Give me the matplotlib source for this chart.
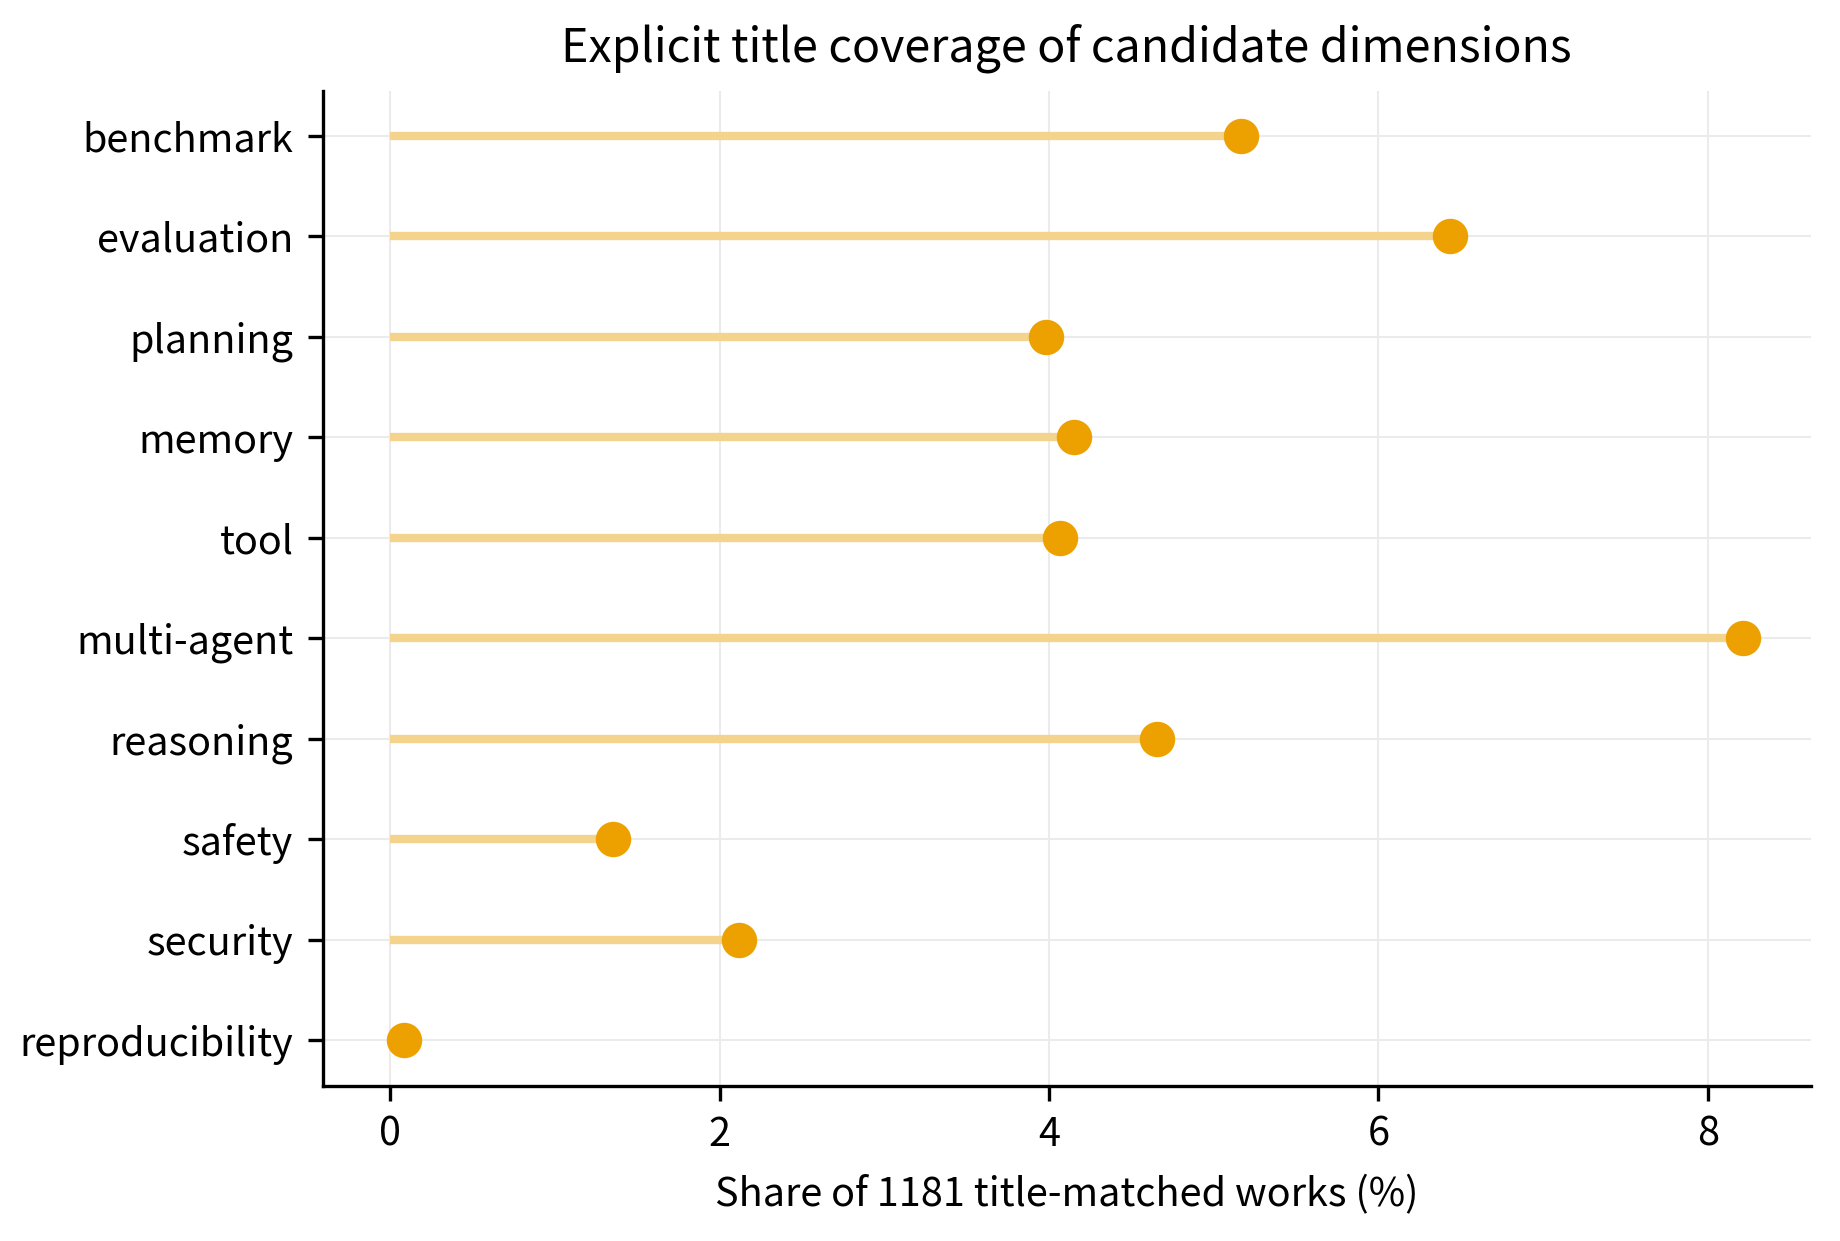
import matplotlib
matplotlib.use('Agg')
import matplotlib.pyplot as plt

plt.rcParams['font.family'] = ['Noto Sans CJK SC', 'DejaVu Sans']

# title-matched works per dimension (out of 1181)
total_works = 1181
dimensions = ['benchmark', 'evaluation', 'planning', 'memory', 'tool',
              'multi-agent', 'reasoning', 'safety', 'security', 'reproducibility']
counts = [61, 76, 47, 49, 48, 97, 55, 16, 25, 1]

shares = [c / total_works * 100 for c in counts]

stem_color = '#F4D48C'
dot_color = '#ECA100'

fig = plt.figure(figsize=(1840 / 300, 1241 / 300), dpi=300)
ax = fig.add_axes([0.1753, 0.1253, 0.8087, 0.8017])

ypos = list(range(len(dimensions)))[::-1]
ax.hlines(ypos, 0, shares, color=stem_color, linewidth=2.0, zorder=2)
ax.plot(shares, ypos, 'o', color=dot_color, markersize=7.5, zorder=3)

ax.set_yticks(ypos)
ax.set_yticklabels(dimensions, fontsize=9.5)
ax.tick_params(axis='x', labelsize=9.5)
ax.set_xticks([0, 2, 4, 6, 8])
ax.set_xlabel('Share of 1181 title-matched works (%)', fontsize=9.5, labelpad=5)
ax.set_title('Explicit title coverage of candidate dimensions', fontsize=11.2, pad=7)

ax.grid(True, color='#EBEBEB', linewidth=0.5, zorder=0)
ax.set_axisbelow(True)
ax.spines['top'].set_visible(False)
ax.spines['right'].set_visible(False)

fig.savefig('out.png', dpi=300)
